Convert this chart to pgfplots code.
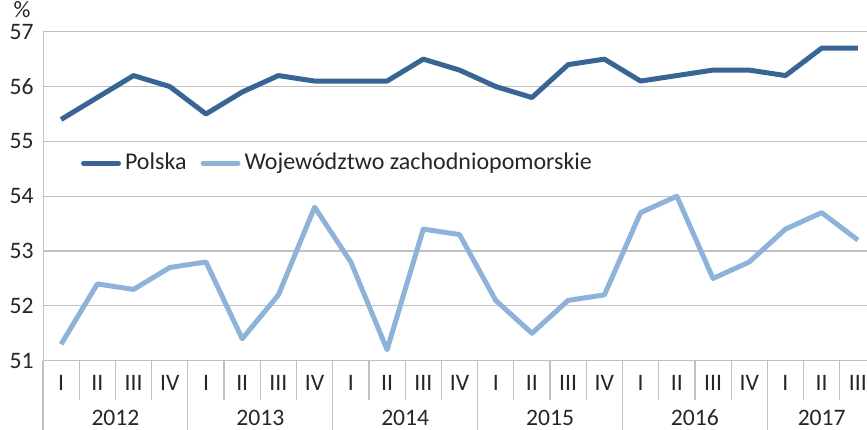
\documentclass[border=0pt]{standalone}
\usepackage{fontspec}
\setmainfont{Carlito}
\usepackage{pgfplots}
\pgfplotsset{compat=1.18}
\definecolor{pl}{HTML}{386594}
\definecolor{zp}{HTML}{8DB3DA}
\definecolor{gr}{HTML}{C0C0C0}
\definecolor{txt}{HTML}{262626}
\begin{document}
\fontsize{11.8}{13}\selectfont
\begin{tikzpicture}
\useasboundingbox (0,0) rectangle (433.5pt,214.5pt);
\clip (0,0) rectangle (433.5pt,214.5pt);
\begin{axis}[
  at={(21.5pt,34.15pt)}, anchor=south west,
  scale only axis, width=416.5pt, height=164.5pt,
  xmin=-0.5, xmax=22.5, ymin=51, ymax=57,
  clip=false,
  axis x line*=bottom, axis y line*=left,
  axis line style={draw=gr, -},
  ymajorgrids, grid style={gr, line width=0.6pt},
  ytick={51,52,...,57},
  xtick={0,...,22},
  xticklabels={I,II,III,IV,I,II,III,IV,I,II,III,IV,I,II,III,IV,I,II,III,IV,I,II,III},
  major tick length=0pt,
  tick style={draw=none},
  /pgf/number format/assume math mode=true,
  ticklabel style={font=\fontsize{11.8}{13}\selectfont, text=txt},
  xticklabel style={anchor=center, yshift=-11.15pt},
  yticklabel style={anchor=east, inner sep=0pt, xshift=-4.5pt},
  legend columns=2,
  legend style={at={(axis cs:0.54,54.6)}, anchor=west, draw=none, fill=none,
    font=\fontsize{12}{14}\selectfont, text=txt, inner sep=0pt,
    /tikz/every even column/.append style={column sep=5pt}},
  legend image code/.code={\draw[#1, line cap=round] (0pt,0pt) -- (17.5pt,0pt);},
]
\addplot[pl, line width=2.5pt, line join=round] coordinates {
(0,55.4) (1,55.8) (2,56.2) (3,56.0) (4,55.5) (5,55.9) (6,56.2) (7,56.1)
(8,56.1) (9,56.1) (10,56.5) (11,56.3) (12,56.0) (13,55.8) (14,56.4) (15,56.5)
(16,56.1) (17,56.2) (18,56.3) (19,56.3) (20,56.2) (21,56.7) (22,56.7)};
\addlegendentry{Polska}
\addplot[zp, line width=2.5pt, line join=round] coordinates {
(0,51.3) (1,52.4) (2,52.3) (3,52.7) (4,52.8) (5,51.4) (6,52.2) (7,53.8)
(8,52.8) (9,51.2) (10,53.4) (11,53.3) (12,52.1) (13,51.5) (14,52.1) (15,52.2)
(16,53.7) (17,54.0) (18,52.5) (19,52.8) (20,53.4) (21,53.7) (22,53.2)};
\addlegendentry{Województwo zachodniopomorskie}
% category separators
\pgfplotsinvokeforeach{0.5,1.5,2.5,4.5,5.5,6.5,8.5,9.5,10.5,12.5,13.5,14.5,16.5,17.5,18.5,20.5,21.5}{
  \draw[gr, line width=0.6pt] (axis cs:#1,51) -- ++(0pt,-19.65pt);}
\pgfplotsinvokeforeach{-0.5,3.5,7.5,11.5,15.5,19.5}{
  \draw[gr, line width=0.6pt] (axis cs:#1,51) -- ++(0pt,-40pt);}
% year labels
\node[text=txt, anchor=center] at ([yshift=-28.65pt]axis cs:1.5,51) {2012};
\node[text=txt, anchor=center] at ([yshift=-28.65pt]axis cs:5.5,51) {2013};
\node[text=txt, anchor=center] at ([yshift=-28.65pt]axis cs:9.5,51) {2014};
\node[text=txt, anchor=center] at ([yshift=-28.65pt]axis cs:13.5,51) {2015};
\node[text=txt, anchor=center] at ([yshift=-28.65pt]axis cs:17.5,51) {2016};
\node[text=txt, anchor=center] at ([yshift=-28.65pt]axis cs:21,51) {2017};
\node[text=txt, anchor=center, inner sep=0pt] at ([xshift=-10.5pt, yshift=11pt]axis cs:-0.5,57) {\%};
\end{axis}
\end{tikzpicture}
\end{document}
